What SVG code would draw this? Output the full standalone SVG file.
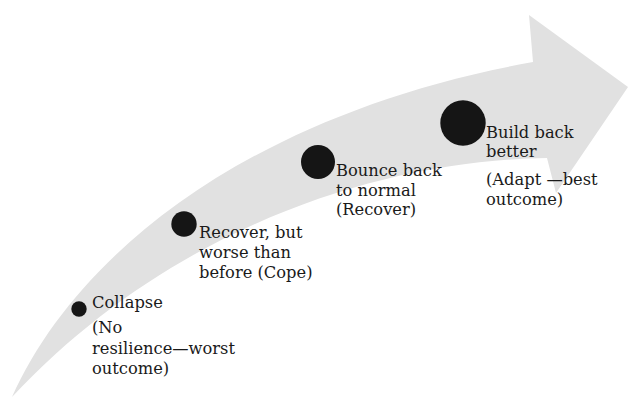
<svg xmlns="http://www.w3.org/2000/svg" width="628" height="398" viewBox="0 0 628 398">
<style>
.dot{fill:#151515}
.t{font-family:"DejaVu Serif","Liberation Serif",serif;font-size:16.3px;fill:#1a1a1a}
</style>
<rect width="628" height="398" fill="#ffffff"/>
<g id="arrow">
<path d="M12,397 C78,250 255,112 533,62 L529,15 L628,87 L556,193 L547,158 C380,160 170,228 12,397 Z" fill="#e1e1e1"/>
</g>
<g id="connectors"></g>
<g id="collapse">
<circle class="dot" cx="79" cy="309" r="7.7"/>
<text class="t" x="92" y="308">Collapse</text>
<text class="t" x="92" y="333">(No</text>
<text class="t" x="92" y="354">resilience—worst</text>
<text class="t" x="92" y="374">outcome)</text>
</g>
<g id="cope">
<circle class="dot" cx="184" cy="224" r="12.7"/>
<text class="t" x="199" y="238">Recover, but</text>
<text class="t" x="199" y="258">worse than</text>
<text class="t" x="199" y="278">before (Cope)</text>
</g>
<g id="recover">
<circle class="dot" cx="318" cy="162" r="17"/>
<text class="t" x="336" y="176">Bounce back</text>
<text class="t" x="336" y="195.5">to normal</text>
<text class="t" x="336" y="215">(Recover)</text>
</g>
<g id="adapt">
<circle class="dot" cx="463" cy="123" r="22.7"/>
<text class="t" x="486" y="137.5">Build back</text>
<text class="t" x="486" y="157">better</text>
<text class="t" x="486" y="185">(Adapt —best</text>
<text class="t" x="486" y="204.5">outcome)</text>
</g>
</svg>
